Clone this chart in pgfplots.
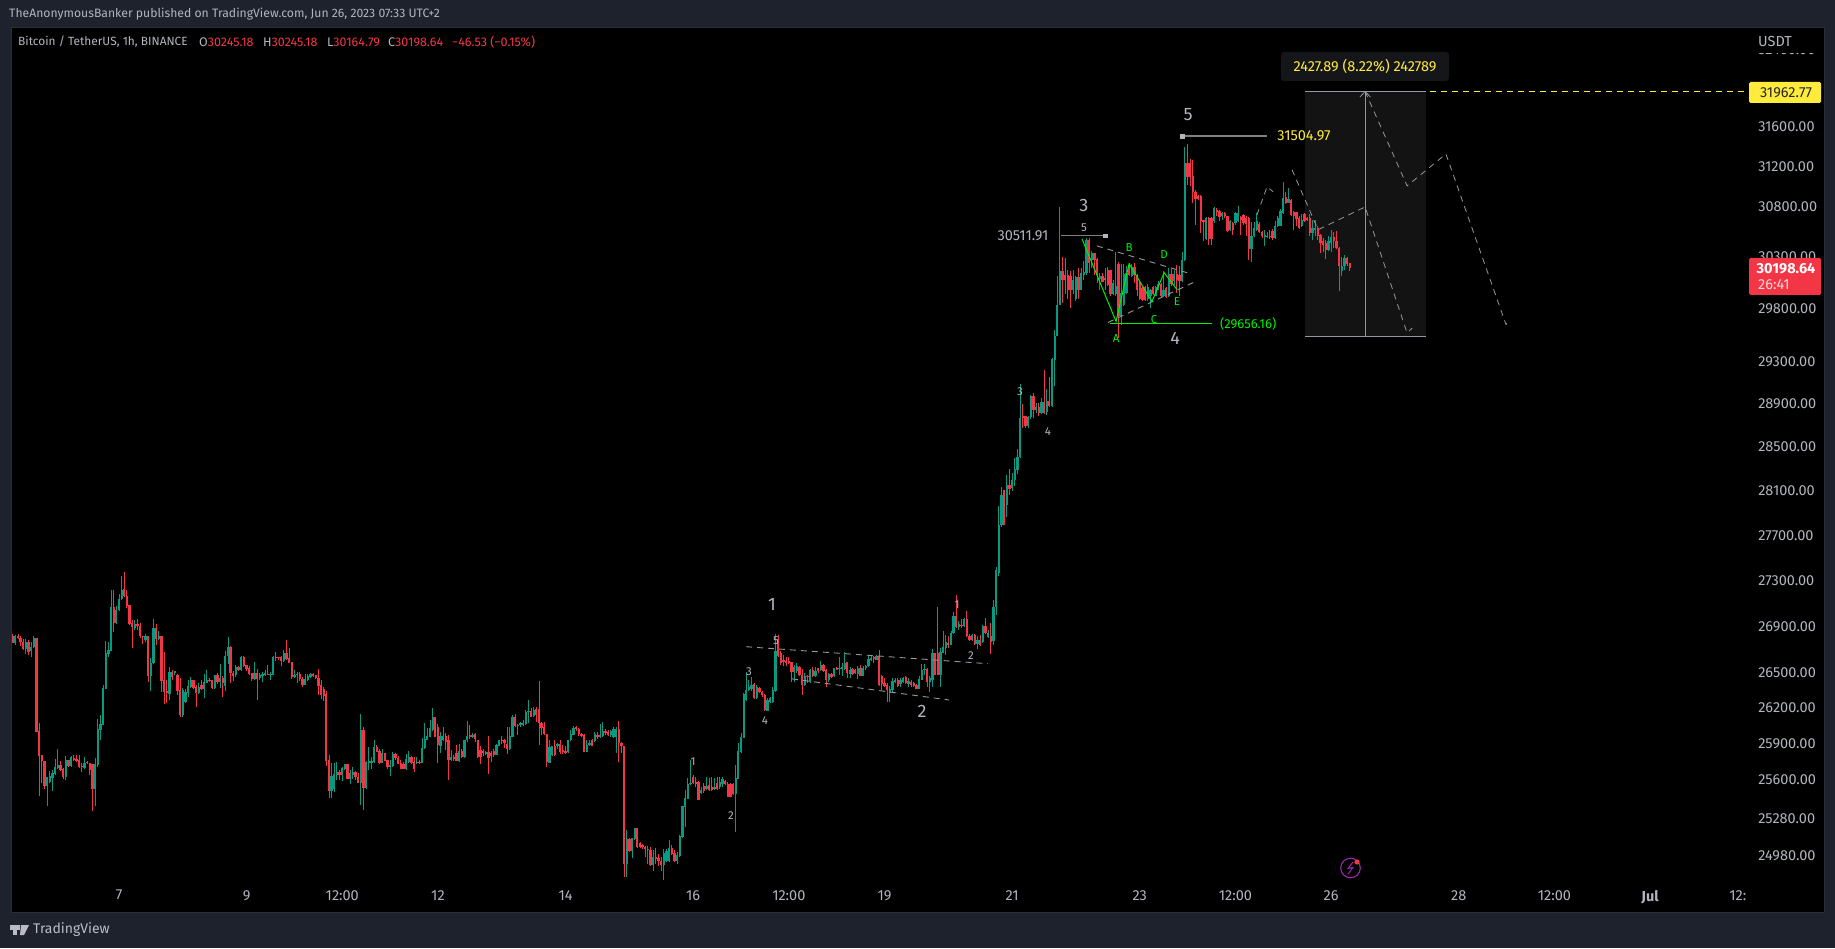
\documentclass[border=0pt]{standalone}
\usepackage{fontspec}
\setmainfont{Fira Sans}
\usepackage{pgfplots}
\usepackage{pgfplotstable}
\pgfplotsset{compat=1.18}
\definecolor{panel}{HTML}{1E222D}
\definecolor{cgreen}{HTML}{089981}
\definecolor{cred}{HTML}{F23645}
\definecolor{txt}{HTML}{B2B5BE}
\definecolor{ylw}{HTML}{FFEB3B}
\definecolor{grn}{HTML}{00F000}
\definecolor{dsh}{HTML}{9598A1}
\definecolor{posbg}{HTML}{131313}
\definecolor{lbg}{HTML}{14161A}
\definecolor{pur}{HTML}{9C27B0}
\pgfplotstableread{
x a b l h
-39 26758 26820 26738 26826
-35 26706 26769 26661 26786
-33 26683 26718 26638 26763
-32 26718 26797 26709 26815
-27 25551 25622 25389 25628
-26 25584 25633 25573 25672
-25 25616 25655 25512 25683
-24 25650 25705 25644 25775
-23 25700 25722 25694 25855
-20 25625 25766 25600 25800
-18 25716 25789 25711 25800
-13 25700 25744 25688 25789
-9 25526 25733 25386 25780
-8 25727 26022 25711 26105
-7 26017 26064 25928 26142
-6 26061 26367 26055 26396
-5 26364 26666 26359 26772
-4 26661 26695 26632 26769
-3 26689 27071 26683 27213
-1 26926 27043 26923 27077
0 27043 27141 27037 27178
1 27138 27219 27132 27344
6 26889 26923 26866 26957
10 26780 26815 26766 26832
12 26472 26586 26344 26626
13 26581 26889 26575 26960
15 26792 26815 26780 26857
19 26319 26507 26267 26549
21 26495 26512 26478 26518
24 26139 26353 26128 26367
25 26256 26336 26247 26359
26 26330 26387 26296 26438
27 26381 26438 26370 26464
30 26324 26378 26319 26416
32 26364 26421 26284 26487
33 26416 26438 26410 26524
36 26370 26484 26364 26484
38 26421 26455 26373 26575
40 26387 26644 26344 26686
41 26644 26720 26575 26806
44 26478 26549 26461 26564
46 26524 26635 26518 26644
51 26447 26495 26438 26592
53 26455 26478 26438 26495
54 26472 26487 26421 26507
55 26484 26495 26472 26524
57 26478 26490 26438 26510
58 26484 26635 26478 26644
62 26604 26666 26595 26695
66 26467 26484 26455 26524
67 26478 26490 26410 26507
70 26396 26444 26393 26490
71 26438 26472 26433 26490
72 26461 26487 26455 26495
80 25510 25633 25455 25739
81 25529 25650 25504 25739
82 25644 25666 25600 25750
84 25640 25697 25595 25711
85 25694 25733 25683 25733
87 25611 25661 25567 25683
88 25644 25666 25611 25705
91 25578 26017 25394 26150
93 25534 25750 25529 25755
94 25744 25755 25683 25872
95 25744 25755 25689 25794
96 25747 25875 25741 25933
99 25744 25822 25739 25855
102 25711 25722 25633 25766
103 25716 25816 25711 25833
108 25694 25772 25683 25816
109 25750 25794 25744 25844
112 25739 25750 25733 25794
114 25739 25864 25739 25947
115 25864 25939 25858 26072
116 25933 25966 25928 26030
117 25961 26030 25955 26100
118 26017 26122 26011 26197
121 25878 25966 25822 26003
122 25928 25966 25922 26044
125 25766 25789 25761 25850
128 25755 25839 25750 25900
130 25789 25933 25783 25933
131 25928 25966 25919 26094
133 25955 25972 25950 25989
138 25816 25833 25805 25844
142 25811 25889 25805 25900
143 25883 25933 25878 25933
147 25855 25966 25850 26044
148 25961 26128 25955 26142
151 26055 26072 26039 26086
152 26061 26072 26050 26100
153 26067 26169 26061 26183
154 26167 26178 26072 26268
156 26133 26183 26128 26206
162 25744 25872 25739 25933
163 25805 25878 25800 25878
165 25878 25900 25861 25911
169 25833 25933 25827 25933
170 25928 25983 25922 26017
171 25978 26030 25972 26050
176 25836 25891 25830 25928
177 25886 25905 25878 25933
179 25922 25980 25916 26003
181 25955 25975 25950 26067
182 25966 26011 25961 26086
185 25972 26008 25961 26017
186 25955 26028 25950 26044
187 25961 26028 25822 26039
191 24915 25118 24811 25189
193 25019 25123 24964 25129
194 25118 25205 25112 25205
199 25025 25038 24915 25058
201 24910 24975 24860 25025
205 24910 25008 24789 25038
206 24937 25019 24929 25038
207 24937 25047 24931 25107
210 24937 24986 24920 25011
211 24981 25140 24975 25148
212 25134 25386 25129 25386
213 25381 25449 25216 25518
214 25447 25564 25441 25614
215 25564 25573 25559 25766
219 25490 25518 25485 25545
221 25523 25551 25518 25622
224 25523 25545 25518 25617
226 25545 25586 25529 25628
227 25567 25606 25540 25622
232 25485 25617 25175 25725
233 25611 25844 25606 25905
234 25833 25955 25827 25989
235 25950 26319 25947 26325
236 26268 26354 26262 26510
237 26353 26376 26342 26438
238 26364 26398 26347 26461
240 26285 26376 26279 26396
244 26178 26273 26172 26290
245 26253 26282 26239 26296
246 26253 26353 26245 26376
247 26346 26690 26340 26834
254 26504 26550 26418 26570
255 26513 26556 26498 26584
258 26398 26475 26389 26498
260 26418 26521 26412 26533
262 26470 26513 26464 26550
264 26521 26570 26513 26599
267 26441 26492 26426 26498
269 26470 26544 26464 26544
271 26533 26544 26484 26636
272 26533 26550 26475 26584
273 26533 26584 26527 26676
275 26492 26527 26455 26550
278 26492 26541 26447 26561
280 26475 26538 26470 26561
281 26544 26556 26527 26570
282 26556 26619 26550 26656
283 26613 26627 26604 26647
285 26613 26647 26607 26653
290 26326 26366 26254 26389
291 26355 26429 26340 26455
292 26426 26441 26412 26455
294 26406 26441 26378 26455
295 26426 26452 26412 26464
297 26406 26429 26378 26452
301 26366 26447 26360 26470
302 26441 26527 26435 26579
303 26521 26533 26484 26579
305 26426 26455 26340 26470
306 26441 26665 26383 26705
309 26484 26676 26378 26713
310 26670 26722 26665 26857
311 26716 26768 26656 26828
313 26742 26843 26736 26857
314 26843 26986 26837 27029
316 26894 26923 26871 26943
318 26900 26963 26894 26972
321 26785 26828 26771 26837
323 26751 26785 26705 26820
325 26768 26906 26756 26914
327 26808 26843 26800 26871
329 26770 27070 26740 27132
330 27070 27395 27000 27420
331 27365 27790 27340 27968
332 27790 28065 27780 28136
334 27975 28155 27870 28245
336 28125 28200 28103 28260
337 28200 28300 28145 28405
338 28290 28410 28255 28485
339 28410 28770 28397 29085
342 28695 28780 28675 28790
343 28780 28975 28765 28987
345 28845 28875 28820 28905
347 28820 28915 28810 28955
349 28825 28925 28795 29040
351 28880 29325 28875 29335
352 29315 29540 29065 29600
353 29538 29842 29538 30120
354 29842 30162 29835 30793
359 29986 30082 29941 30176
360 29890 30107 29874 30114
362 29986 30146 29979 30194
363 30130 30152 30082 30267
364 30146 30471 30130 30488
366 30274 30346 30200 30360
369 30088 30114 29986 30146
374 29938 30050 29930 30080
375 29938 30018 29920 30356
377 29730 29954 29650 30238
378 29838 30139 29832 30235
379 29954 30146 29947 30219
381 30120 30203 30110 30235
387 29890 30011 29874 30043
388 29922 29979 29810 29992
390 29922 30011 29922 30024
391 29986 30043 29979 30066
393 29922 29986 29915 30162
395 29922 30139 29915 30194
397 30066 30139 30034 30178
400 30066 30274 30056 30356
401 30274 31233 30260 31400
409 30481 30685 30471 30692
412 30652 30784 30636 30790
415 30705 30734 30668 30750
418 30570 30652 30553 30669
420 30636 30734 30619 30741
421 30652 30734 30642 30800
426 30379 30504 30250 30642
427 30504 30586 30498 30642
428 30570 30652 30553 30734
431 30497 30520 30405 30570
432 30497 30510 30488 30544
435 30488 30603 30481 30652
436 30603 30685 30596 30701
437 30609 30751 30603 30774
438 30734 30883 30727 31043
440 30833 30873 30833 30983
445 30603 30668 30596 30728
449 30537 30586 30465 30668
450 30570 30586 30504 30668
455 30366 30455 30359 30504
456 30438 30497 30356 30563
460 30162 30217 30114 30306
461 30210 30290 30178 30322
}\upcandles
\pgfplotstableread{
x a b l h
-40 26758 26815 26752 26832
-38 26797 26820 26792 26832
-37 26763 26797 26729 26815
-36 26706 26769 26700 26792
-34 26678 26769 26652 26780
-31 26003 26797 26000 26803
-30 25802 26008 25468 26075
-29 25755 25808 25578 25808
-28 25551 25755 25526 25755
-22 25683 25722 25677 25758
-21 25625 25688 25611 25700
-19 25716 25766 25711 25766
-17 25766 25783 25755 25811
-16 25761 25772 25750 25805
-15 25705 25766 25700 25805
-14 25705 25716 25669 25744
-12 25739 25750 25733 25761
-11 25683 25744 25644 25744
-10 25529 25733 25348 25733
-2 26926 27071 26849 27213
2 27161 27222 27155 27378
3 27077 27167 27060 27213
4 26923 27086 26909 27086
5 26891 26932 26715 26957
7 26900 26923 26866 26968
8 26815 26906 26803 26934
9 26809 26820 26746 26820
11 26472 26815 26421 26815
14 26792 26889 26738 26923
16 26433 26815 26336 26815
17 26336 26438 26233 26680
18 26330 26341 26239 26438
20 26461 26507 26438 26524
22 26344 26484 26310 26490
23 26139 26353 26122 26452
28 26370 26438 26361 26438
29 26330 26378 26210 26396
31 26361 26396 26353 26438
34 26427 26438 26421 26452
35 26370 26438 26361 26438
37 26421 26478 26404 26495
39 26416 26455 26296 26472
42 26495 26720 26416 26729
43 26472 26501 26433 26518
45 26524 26547 26518 26558
47 26558 26635 26552 26644
48 26530 26564 26518 26564
49 26490 26541 26481 26558
50 26447 26495 26433 26501
52 26447 26498 26267 26529
56 26484 26492 26478 26572
59 26629 26638 26604 26678
60 26626 26635 26609 26638
61 26604 26632 26558 26644
63 26621 26669 26609 26780
64 26586 26626 26581 26712
65 26461 26589 26450 26589
68 26444 26487 26433 26507
69 26396 26444 26381 26467
73 26472 26487 26461 26498
74 26455 26478 26450 26484
75 26387 26455 26310 26532
76 26313 26393 26279 26438
77 26307 26364 26262 26381
78 25761 26319 25716 26341
79 25510 25766 25455 25808
83 25644 25666 25600 25683
86 25608 25733 25605 25733
89 25622 25666 25600 25677
90 25578 25628 25573 25655
92 25534 26017 25353 26044
97 25833 25875 25828 25889
98 25739 25844 25733 25855
100 25761 25825 25755 25825
101 25711 25766 25689 25766
104 25783 25816 25766 25822
105 25736 25783 25733 25800
106 25694 25741 25688 25766
107 25694 25733 25688 25752
110 25744 25789 25733 25800
111 25694 25750 25669 25794
113 25739 25750 25733 25766
119 25961 26122 25955 26128
120 25886 26044 25744 26067
123 25919 25966 25850 25989
124 25766 25928 25600 25975
126 25772 25794 25761 25811
127 25761 25822 25755 25891
129 25789 25844 25780 25855
132 25955 25972 25939 26055
134 25939 25983 25919 25989
135 25789 25933 25780 25933
136 25794 25850 25733 25878
137 25822 25844 25800 25855
139 25783 25833 25650 25966
140 25800 25822 25752 25844
141 25811 25844 25794 25855
144 25922 25933 25900 25966
145 25905 25928 25864 25939
146 25855 25900 25816 26044
149 26050 26128 26044 26150
150 26048 26058 25975 26067
155 26128 26175 26122 26197
157 26142 26192 26086 26206
158 26078 26189 25891 26430
159 26030 26078 25975 26086
160 25983 26039 25975 26086
161 25750 25983 25711 25983
164 25805 25878 25800 25928
166 25836 25900 25816 25933
167 25833 25850 25816 25891
168 25827 25844 25814 25878
172 26022 26044 26011 26050
173 25983 26022 25966 26030
174 25966 25983 25961 25994
175 25836 25975 25830 25980
178 25883 25928 25878 25939
180 25955 25978 25944 26003
183 25989 26011 25975 26028
184 25978 26003 25966 26017
188 25905 26022 25753 26092
189 25878 25911 25822 25919
190 24915 25878 24811 25878
192 25019 25118 25011 25129
195 25052 25205 25047 25205
196 25052 25085 25047 25093
197 25052 25071 25038 25079
198 25033 25052 24975 25060
200 24910 25025 24901 25052
202 24953 24970 24915 25047
203 24937 24962 24901 24997
204 24910 24942 24860 24970
208 24997 25047 24986 25066
209 24937 25005 24931 25025
216 25573 25625 25568 25641
217 25567 25586 25545 25627
218 25436 25586 25436 25595
220 25512 25551 25490 25573
222 25518 25556 25512 25614
223 25518 25540 25512 25622
225 25523 25578 25518 25622
228 25567 25592 25556 25600
229 25463 25567 25458 25586
230 25463 25567 25458 25578
231 25485 25567 25480 25573
239 26285 26404 26279 26410
241 26336 26373 26325 26381
242 26308 26339 26296 26347
243 26183 26313 26178 26319
248 26647 26791 26636 26828
249 26584 26665 26570 26685
250 26596 26613 26556 26656
251 26584 26599 26561 26636
252 26584 26599 26579 26636
253 26504 26590 26426 26590
256 26478 26550 26470 26556
257 26398 26484 26312 26533
259 26464 26475 26412 26484
261 26470 26521 26464 26550
263 26513 26541 26498 26541
265 26513 26570 26504 26579
266 26441 26521 26378 26533
268 26464 26492 26455 26498
270 26527 26544 26521 26550
274 26498 26590 26455 26590
276 26492 26533 26484 26541
277 26498 26521 26492 26533
279 26475 26538 26470 26570
284 26619 26636 26584 26647
286 26398 26642 26389 26699
287 26406 26475 26355 26484
288 26389 26412 26378 26455
289 26355 26395 26254 26412
293 26389 26441 26383 26452
296 26412 26464 26406 26470
298 26395 26424 26383 26441
299 26389 26412 26378 26426
300 26366 26395 26360 26406
304 26418 26533 26383 26538
307 26484 26665 26478 26665
308 26484 26665 26484 27072
312 26742 26756 26713 26814
315 26894 26986 26886 27173
317 26900 26914 26886 26963
319 26814 26963 26808 27032
320 26779 26820 26771 26837
322 26751 26825 26742 26834
324 26742 26785 26734 26828
326 26843 26906 26837 26972
328 26768 26814 26659 26929
333 27790 28110 27790 28110
335 28118 28155 28065 28300
340 28770 28785 28680 28900
341 28695 28785 28675 28790
344 28845 28975 28770 29000
346 28820 28870 28790 28905
348 28820 28920 28810 29215
350 28880 28925 28875 29150
355 30075 30162 29851 30300
356 30075 30130 29941 30290
357 29979 30123 29890 30176
358 29979 30114 29810 30162
361 29986 30107 29899 30194
365 30242 30471 30146 30488
367 30274 30339 30130 30346
368 30130 30287 30050 30290
370 30062 30114 30056 30146
371 30082 30098 29986 30194
372 30034 30178 30024 30204
373 29938 30178 29922 30178
376 29730 30235 29522 30250
380 30130 30210 30114 30242
382 30130 30203 30050 30242
383 29986 30130 29928 30139
384 29890 30050 29883 30066
385 29883 30002 29874 30018
386 29883 30011 29874 30018
389 29938 30011 29930 30018
392 29922 30043 29915 30050
394 29915 30002 29906 30011
396 30043 30139 30024 30184
398 30075 30139 29954 30226
399 30066 30130 29922 30216
402 31090 31233 31016 31430
403 31093 31233 31000 31280
404 30940 31100 30833 31266
405 30873 30940 30615 30967
406 30873 30907 30867 30913
407 30652 30907 30537 30913
408 30642 30662 30455 30669
410 30481 30685 30422 30692
411 30478 30685 30415 30692
413 30741 30767 30701 30784
414 30695 30751 30652 30767
416 30705 30734 30685 30741
417 30553 30701 30547 30701
419 30570 30636 30520 30642
422 30668 30691 30520 30701
423 30636 30718 30619 30728
424 30629 30685 30505 30701
425 30379 30685 30275 30691
429 30544 30629 30537 30642
430 30504 30544 30488 30553
433 30497 30510 30478 30570
434 30488 30553 30471 30576
439 30833 30890 30827 30940
441 30718 30867 30708 30873
442 30701 30741 30570 30751
443 30675 30741 30603 30747
444 30586 30685 30576 30701
446 30652 30721 30642 30734
447 30668 30685 30652 30691
448 30537 30685 30510 30728
451 30504 30586 30471 30603
452 30438 30520 30340 30527
453 30422 30455 30356 30488
454 30366 30438 30280 30471
457 30455 30497 30389 30543
458 30389 30461 30379 30553
459 30210 30389 29970 30399
462 30236 30290 30210 30306
463 30199 30245 30165 30245
}\downcandles
% turn two columns of a candle table into a list of separate vertical segments
\newcommand\buildsegs[4]{%
 \gdef#4{}%
 \pgfplotstablegetrowsof{#1}\pgfmathtruncatemacro\nr{\pgfplotsretval-1}%
 \pgfplotsforeachungrouped \i in {0,...,\nr}{%
   \pgfplotstablegetelem{\i}{x}\of{#1}\let\vx\pgfplotsretval
   \pgfplotstablegetelem{\i}{#2}\of{#1}\let\va\pgfplotsretval
   \pgfplotstablegetelem{\i}{#3}\of{#1}\let\vb\pgfplotsretval
   \xdef#4{#4(\vx,\va)(\vx,\vb)(\vx,nan)}%
 }}
\buildsegs{\upcandles}{l}{h}{\upwick}
\buildsegs{\upcandles}{a}{b}{\upbody}
\buildsegs{\downcandles}{l}{h}{\downwick}
\buildsegs{\downcandles}{a}{b}{\downbody}
\def\nanword{nan}
\newcommand{\fs}{\fontsize{12.5}{15}\selectfont}
\newcommand{\fl}{\fontsize{14.5}{16}\selectfont}
\newcommand{\bign}[3]{\node[text=txt,font=\fontsize{18}{19}\selectfont,inner sep=0pt] at (axis cs:#1,#2) {#3};}
\newcommand{\smln}[3]{\node[text=txt,font=\fontsize{11.5}{12}\selectfont,inner sep=0pt] at (axis cs:#1,#2) {#3};}
\newcommand{\grl}[3]{\node[text=grn,font=\fontsize{11.5}{12}\selectfont,inner sep=0pt] at (axis cs:#1,#2) {#3};}
\begin{document}
\begin{tikzpicture}[x=1pt,y=1pt]
\path[fill=panel] (0,0) rectangle (1835,948);
\path[fill=black,draw={rgb,255:red,42;green,46;blue,57}] (11,36) rectangle (1824,921);
% header
\node[anchor=west,inner sep=0pt,text=txt,font=\fontsize{12.2}{15}\selectfont] at (9,934) {TheAnonymousBanker published on TradingView.com, Jun 26, 2023 07:33 UTC+2};
\begin{axis}[
  at={(11pt,64pt)},anchor=south west,scale only axis,
  width=1738pt,height=857pt,
  y coord trafo/.code={\edef\ycin{#1}\ifx\ycin\nanword\def\pgfmathresult{nan}\else\pgfmathfloatparse{1000*ln(\ycin)}\pgfmathfloattofixed{\pgfmathresult}\fi},
  xmin=-40.63,xmax=613.24,ymin=24756,ymax=32635,
  axis line style={draw=none},major tick length=0pt,minor tick length=0pt,
  scaled ticks=false,
  unbounded coords=jump,
  xtick={0,48,84,120,168,216,252,288,336,384,420,456,504,540,576,609},
  xticklabels={7,9,12:00,12,14,16,12:00,19,21,23,12:00,26,28,12:00,\textbf{Jul},12:},
  ytick={24980,25280,25600,25900,26200,26500,26900,27300,27700,28100,28500,28900,29300,29800,30300,30800,31200,31600,32400},
  yticklabels={24980.00,25280.00,25600.00,25900.00,26200.00,26500.00,26900.00,27300.00,27700.00,28100.00,28500.00,28900.00,29300.00,29800.00,30300.00,30800.00,31200.00,31600.00,32400.00},
  yticklabel pos=right,
  xticklabel style={inner sep=0pt,yshift=-6pt,text=txt,font=\fl,anchor=north},
  yticklabel style={inner sep=0pt,xshift=9pt,text=txt,font=\fl,anchor=west},
  tick style={draw=none},
]
% position box
\addplot[draw=none,fill=posbg] coordinates {(446.2,29534.88)(491.7,29534.88)(491.7,31962.77)(446.2,31962.77)} --cycle;
\addplot[dsh,line width=1pt] coordinates {(446.2,31962.77)(491.7,31962.77)};
\addplot[dsh,line width=1pt] coordinates {(446.2,29534.88)(491.7,29534.88)};
% candles
\edef\temp{\noexpand\addplot[cgreen,line width=0.95pt,forget plot] coordinates {\upwick};}\temp
\edef\temp{\noexpand\addplot[cgreen,line width=2.3pt,forget plot] coordinates {\upbody};}\temp
\edef\temp{\noexpand\addplot[cred,line width=0.95pt,forget plot] coordinates {\downwick};}\temp
\edef\temp{\noexpand\addplot[cred,line width=2.3pt,forget plot] coordinates {\downbody};}\temp
% arrow of the position tool
\addplot[dsh,line width=1pt] coordinates {(468.8,29534.88)(468.8,31962.77)};
\addplot[dsh,line width=.8pt] coordinates {(466.8,31905)(468.8,31962.77)(470.8,31905)};
% channels and dashed waves
\addplot[dsh,dash pattern=on 6pt off 5pt,line width=.9pt] coordinates {(235.9,26724)(326.9,26578)};
\addplot[dsh,dash pattern=on 6pt off 5pt,line width=.9pt] coordinates {(253.2,26449)(312.3,26269)};
\addplot[dsh,dash pattern=on 6pt off 5pt,line width=.9pt] coordinates {(367.9,30411)(401.8,30149)};
\addplot[dsh,dash pattern=on 6pt off 5pt,line width=.9pt] coordinates {(372.1,29669)(404.1,30053)};
\addplot[dsh,dash pattern=on 6pt off 5pt,line width=.8pt] coordinates {(428.1,30716)(431.9,30995)(434.2,30945)};
\addplot[dsh,dash pattern=on 6pt off 5pt,line width=.8pt] coordinates {(441.3,31165)(451.1,30569)(468.8,30795)(484.6,29569)(486.5,29615)};
\addplot[dsh,dash pattern=on 6pt off 5pt,line width=.8pt] coordinates {(468.8,31962.77)(484.6,31005)(499.2,31327)(521.8,29650)(523.3,29698)};
% yellow target
\addplot[ylw,dash pattern=on 6pt off 5pt,line width=1pt] coordinates {(493.2,31962.77)(613.24,31962.77)};
% green count
\addplot[grn,line width=1pt] coordinates {(362.3,30480)(375.1,29679)(380,30236)(388.6,29871)(393.2,30149)(398,29986)};
\addplot[grn,line width=1.3pt] coordinates {(372.8,29656.16)(411.2,29656.16)};
% level lines
\addplot[gray,line width=1.4pt] coordinates {(354.4,30511.91)(371,30511.91)};
\addplot[only marks,mark=square*,mark size=1.8pt,mark options={fill=txt,draw=txt}] coordinates {(371,30511.91)};
\addplot[gray,line width=1.4pt] coordinates {(399.9,31504.97)(431.9,31504.97)};
\addplot[only marks,mark=square*,mark size=1.8pt,mark options={fill=txt,draw=txt}] coordinates {(399.9,31504.97)};
% texts
\bign{245.7}{27091}{1}
\smln{247.2}{26775}{5}
\smln{237}{26509}{3}
\smln{243}{26094}{4}
\bign{302.1}{26177}{2}
\smln{320.5}{26646}{2}
\smln{315.3}{27085}{1}
\smln{216}{25750}{1}
\smln{230.2}{25305}{2}
\smln{339}{29012}{3}
\smln{349.5}{28639}{4}
\bign{363}{30805}{3}
\smln{363}{30588}{5}
\bign{397.3}{29519}{4}
\bign{402.2}{31724}{5}
\grl{375.1}{29519}{A}
\grl{380}{30391}{B}
\grl{389.4}{29698}{C}
\grl{393.2}{30322}{D}
\grl{398}{29871}{E}
\node[text=txt,font=\fl,inner sep=0pt] at (axis cs:340.1,30511.91) {30511.91};
\node[text=ylw,font=\fl,inner sep=0pt] at (axis cs:445.8,31504.97) {31504.97};
\node[text=grn,font=\fontsize{13}{15}\selectfont,inner sep=0pt] at (axis cs:424.8,29656.16) {(29656.16)};
\end{axis}
% cover of the clipped price label and the right-hand labels
\path[fill=black] (1750,895) rectangle (1823,920);
\node[text=txt,font=\fl,inner sep=0pt] at (1775,906) {USDT};
\path[fill=ylw,rounded corners=1.5pt] (1749,845) rectangle (1821,866);
\node[text=black!85,font=\fl,inner sep=0pt] at (1786,855.5) {31962.77};
\path[fill=cred,rounded corners=1.5pt] (1749,653) rectangle (1821,690);
\node[text=white,font=\bfseries\fl,inner sep=0pt] at (1786,679) {30198.64};
\node[text=white!80!cred,font=\fl,inner sep=0pt,anchor=west] at (1758,663) {26:41};
% label of the position tool
\path[fill=lbg,rounded corners=3pt] (1281,867) rectangle (1449,896);
\node[text=ylw,font=\fontsize{14.5}{16}\selectfont,inner sep=0pt] at (1365,882) {2427.89 (8.22\%) 242789};
% legend
\node[anchor=west,inner sep=0pt,text=txt,font=\fontsize{11.9}{15}\selectfont] at (18,906) {Bitcoin / TetherUS, 1h, BINANCE};
\node[anchor=west,inner sep=0pt,text=txt,font=\fs] at (199,906) {O\textcolor{cred}{30245.18}};
\node[anchor=west,inner sep=0pt,text=txt,font=\fs] at (263,906) {H\textcolor{cred}{30245.18}};
\node[anchor=west,inner sep=0pt,text=txt,font=\fs] at (327,906) {L\textcolor{cred}{30164.79}};
\node[anchor=west,inner sep=0pt,text=txt,font=\fs] at (388,906) {C\textcolor{cred}{30198.64}};
\node[anchor=west,inner sep=0pt,text=cred,font=\fs] at (452,906) {−46.53 (−0.15\%)};
% alert icon
\draw[pur,line width=1.1pt] (1350.5,80) circle (9.8);
\draw[pur,line width=1pt] (1353,86)--(1348,79.5)--(1353,80.5)--(1348,74);
\fill[cred] (1357,86) circle (2.6);
% footer
\node[anchor=west,inner sep=0pt,text=txt!90!white,font=\fontsize{14}{15}\selectfont] at (33,18) {TradingView};
\fill[txt!90!white] (10,18) rectangle (20,23);
\fill[txt!90!white] (13,13) rectangle (17,23);
\fill[txt!90!white] (21,23) -- (29,23) -- (24,13) -- (20,13) -- cycle;
\end{tikzpicture}
\end{document}
